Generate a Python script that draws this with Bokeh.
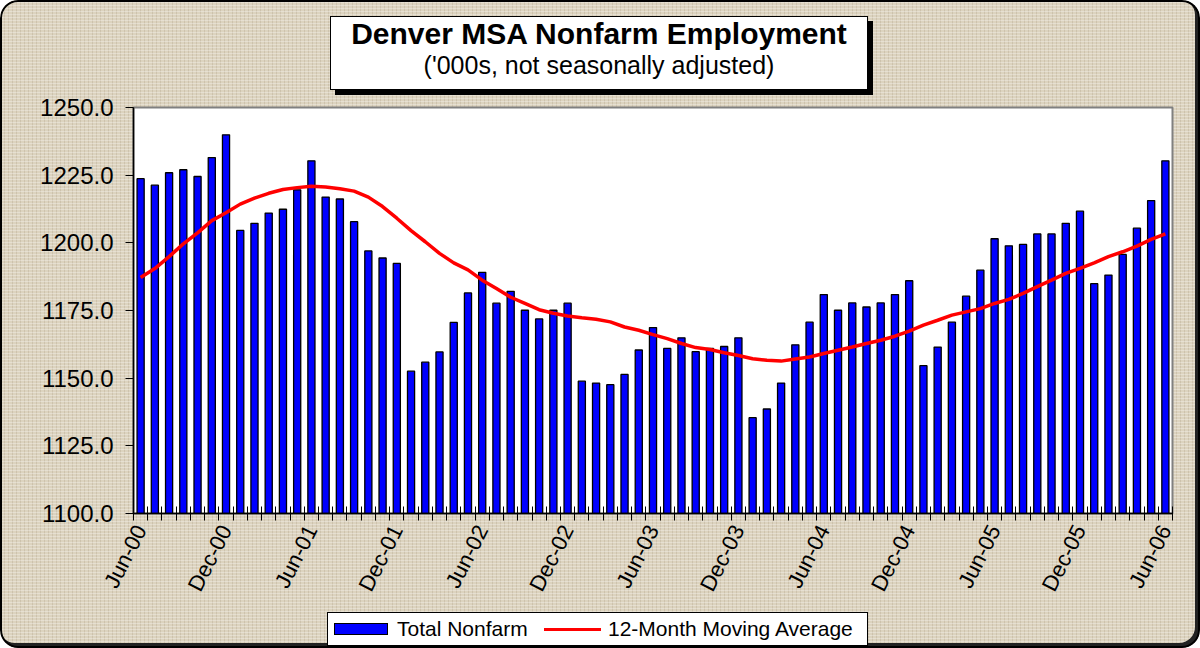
from math import pi
from bokeh.plotting import figure
from bokeh.layouts import column
from bokeh.models import (ColumnDataSource, FixedTicker, PrintfTickFormatter, Range1d, Div)
from bokeh.embed import file_html
from bokeh.resources import INLINE

title_text = "Denver MSA Nonfarm Employment"
subtitle_text = "('000s, not seasonally adjusted)"
series_names = ["Total Nonfarm", "12-Month Moving Average"]
series_colors = ["#0000FF", "#FF0000"]

month_abbr = ["Jan", "Feb", "Mar", "Apr", "May", "Jun", "Jul", "Aug", "Sep", "Oct", "Nov", "Dec"]
months = []
for yr in range(0, 7):
    for mi, m in enumerate(month_abbr):
        if (yr == 0 and mi < 5) or (yr == 6 and mi > 5):
            continue
        months.append(f"{m}-{yr:02d}")

total_nonfarm = [
    1223.7, 1221.3, 1225.9, 1227.0, 1224.5, 1231.5, 1239.9, 1204.6, 1207.2, 1211.0, 1212.4, 1219.6,
    1230.3, 1216.9, 1216.2, 1207.8, 1197.0, 1194.4, 1192.4, 1152.6, 1155.9, 1159.7, 1170.6, 1181.5,
    1189.1, 1177.7, 1182.1, 1175.1, 1171.9, 1175.1, 1177.7, 1148.9, 1148.2, 1147.6, 1151.4, 1160.4,
    1168.7, 1161.0, 1164.9, 1159.8, 1161.0, 1161.7, 1164.9, 1135.4, 1138.6, 1148.2, 1162.3, 1170.7,
    1180.9, 1175.1, 1177.8, 1176.3, 1177.8, 1180.9, 1186.0, 1154.6, 1161.5, 1170.7, 1180.3, 1189.9,
    1201.5, 1198.9, 1199.4, 1203.3, 1203.3, 1207.2, 1211.7, 1184.9, 1188.1, 1195.7, 1205.4, 1215.6,
    1230.3,
]

moving_avg = [
    1187.2, 1190.5, 1194.9, 1199.6, 1203.7, 1208.2, 1211.1, 1214.3, 1216.5, 1218.3, 1219.7, 1220.4,
    1220.9, 1220.6, 1220.0, 1219.1, 1216.9, 1213.4, 1209.1, 1204.5, 1200.4, 1196.1, 1192.6, 1190.0,
    1186.2, 1183.1, 1179.9, 1177.6, 1175.3, 1174.0, 1173.0, 1172.3, 1171.8, 1170.8, 1168.9, 1167.7,
    1166.1, 1164.6, 1162.8, 1161.3, 1160.6, 1159.4, 1158.4, 1157.2, 1156.6, 1156.3, 1157.1, 1157.8,
    1159.1, 1160.3, 1161.5, 1162.8, 1164.0, 1165.5, 1167.4, 1169.6, 1171.4, 1173.3, 1174.5, 1175.7,
    1177.6, 1179.1, 1181.3, 1183.8, 1186.2, 1188.7, 1190.6, 1192.6, 1194.9, 1196.7, 1198.8, 1201.3,
    1203.3,
]

label_months = ["Jun-00", "Dec-00", "Jun-01", "Dec-01", "Jun-02", "Dec-02", "Jun-03",
                "Dec-03", "Jun-04", "Dec-04", "Jun-05", "Dec-05", "Jun-06"]
y_ticks = [1100, 1125, 1150, 1175, 1200, 1225, 1250]

FONT = "Liberation Sans"
TITLE_H = 95
LEGEND_H = 40
W, H = 1200, 648

# ---- title box (HTML) ----
title_html = (
    f'<div style="margin-left:330px; margin-top:16px; width:538px; height:74px; box-sizing:border-box; '
    f'background:#fff; border:1px solid #000; box-shadow:5px 5px 0 #000; text-align:center; '
    f'font-family:\'{FONT}\'; color:#000;">'
    f'<div style="font-size:30px; font-weight:bold; line-height:34px; padding-top:0px;">{title_text}</div>'
    f'<div style="font-size:25px; line-height:28px; margin-top:0px;">{subtitle_text}</div>'
    f'</div>'
)
title_div = Div(text=title_html, width=W, height=TITLE_H, margin=0)

# ---- legend box (HTML) ----
legend_html = (
    f'<div style="position:relative; margin-left:327px; margin-top:4px; width:541px; height:34px; '
    f'box-sizing:border-box; background:#fff; border:1px solid #000; font-family:\'{FONT}\'; '
    f'font-size:21px; color:#000;">'
    f'<div style="position:absolute; left:6px; top:10px; width:54px; height:12px; box-sizing:border-box; '
    f'background:{series_colors[0]}; border:1.5px solid #000;"></div>'
    f'<div style="position:absolute; left:69px; top:4px; line-height:24px; white-space:nowrap;">{series_names[0]}</div>'
    f'<div style="position:absolute; left:216px; top:15px; width:57px; height:3px; background:{series_colors[1]};"></div>'
    f'<div style="position:absolute; left:280px; top:4px; line-height:24px; white-space:nowrap;">{series_names[1]}</div>'
    f'</div>'
)
legend_div = Div(text=legend_html, width=W, height=LEGEND_H, margin=0)

# ---- chart ----
xs = list(range(len(months)))
src = ColumnDataSource(dict(x=xs, month=months, total=total_nonfarm, ma=moving_avg))

fig_h = H - TITLE_H - LEGEND_H
p = figure(width=W, height=fig_h, output_backend="svg", toolbar_location=None,
           x_range=Range1d(-0.5, len(months) - 0.5), y_range=Range1d(1100, 1250),
           min_border_left=133, min_border_right=28, min_border_top=107 - TITLE_H,
           min_border_bottom=fig_h - (513 - TITLE_H), margin=0)

p.title.visible = False
p.border_fill_alpha = 0
p.background_fill_color = "white"
p.outline_line_color = "#808080"
p.outline_line_width = 2
p.xgrid.visible = False
p.ygrid.visible = False

p.vbar(x="x", top="total", bottom=1100, width=0.5, source=src,
       fill_color=series_colors[0], line_color="black", line_width=1.3)
p.line(x="x", y="ma", source=src, line_color=series_colors[1], line_width=3.5)

# x axis
tick_pos = [months.index(m) for m in label_months]
xa = p.xaxis[0]
xa.ticker = FixedTicker(ticks=tick_pos, minor_ticks=[i - 0.5 for i in range(len(months) + 1)])
xa.major_label_overrides = {i: m for i, m in zip(tick_pos, label_months)}
xa.major_label_orientation = pi * 0.35
xa.major_tick_line_color = None
xa.major_tick_out = 0
xa.major_tick_in = 0
xa.minor_tick_line_color = "black"
xa.minor_tick_in = 7
xa.minor_tick_out = 7
xa.minor_tick_line_width = 1
xa.axis_line_color = "black"
xa.axis_line_width = 1.5
xa.major_label_standoff = 6
xa.major_label_text_font = FONT
xa.major_label_text_font_size = "22px"
xa.major_label_text_color = "black"

# y axis
ya = p.yaxis[0]
ya.ticker = FixedTicker(ticks=y_ticks)
ya.formatter = PrintfTickFormatter(format="%.1f")
ya.major_tick_out = 8
ya.major_tick_in = 0
ya.major_tick_line_color = "black"
ya.minor_tick_line_color = None
ya.axis_line_color = "black"
ya.axis_line_width = 1.5
ya.major_label_standoff = 12
ya.major_label_text_font = FONT
ya.major_label_text_font_size = "24px"
ya.major_label_text_color = "black"

page = column(title_div, p, legend_div, spacing=0, margin=0, styles={
    "background-color": "#DCD3BF",
    "background-image": ("repeating-linear-gradient(0deg, rgba(255,255,255,0.30) 0px, rgba(255,255,255,0.30) 1px, transparent 1px, transparent 3px), "
                         "repeating-linear-gradient(90deg, rgba(140,120,90,0.18) 0px, rgba(140,120,90,0.18) 1px, transparent 1px, transparent 4px)"),
    "border-radius": "18px",
    "box-shadow": "inset 0 0 0 2px #000, inset -3px -3px 0 2px #222",
})

open("out.html", "w").write(file_html(page, INLINE))
